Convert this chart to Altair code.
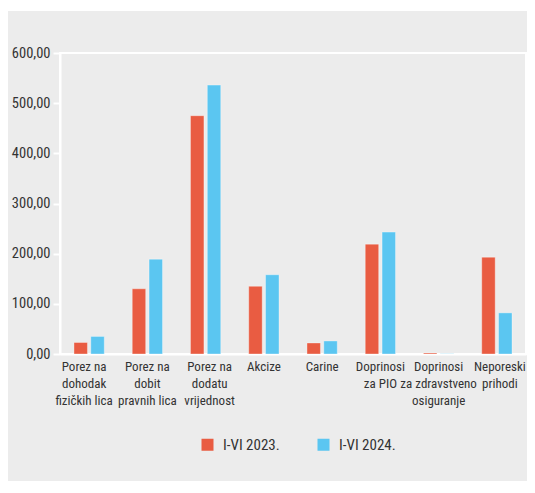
import altair as alt
import pandas as pd

categories = ["Porez na|dohodak|fizičkih lica", "Porez na|dobit|pravnih lica",
              "Porez na|dodatu|vrijednost", "Akcize", "Carine", "Doprinosi|za PIO",
              "Doprinosi|za zdravstveno|osiguranje", "Neporeski|prihodi"]
series = ["I-VI 2023.", "I-VI 2024."]
v2023 = [23, 130, 475, 135, 22, 219, 2, 193]
v2024 = [35, 189, 536, 158, 26, 243, 0.6, 82]
colors = ["#E95C42", "#5BC6F1"]

rows = []
for c, a, b in zip(categories, v2023, v2024):
    rows.append({"cat": c, "s": series[0], "v": a})
    rows.append({"cat": c, "s": series[1], "v": b})
df = pd.DataFrame(rows)

FONT = "Roboto Condensed, Liberation Sans, sans-serif"
TXT = "#333333"

label_offset = {"condition": [
    {"test": "datum.value == 'Neporeski|prihodi'", "value": 3},
    {"test": "datum.value == 'Porez na|dodatu|vrijednost'", "value": 4},
    {"test": "datum.value == 'Porez na|dohodak|fizičkih lica'", "value": -5}],
    "value": 0}

bars = alt.Chart(df).mark_bar(stroke="white", strokeOpacity=0.35, strokeWidth=1).encode(
    x=alt.X("cat:N", sort=categories, title=None,
            scale=alt.Scale(paddingInner=0.48, paddingOuter=0.24),
            axis=alt.Axis(labelExpr="split(datum.label, '|')", labelAngle=0,
                          labelFont=FONT, labelFontSize=13, labelColor=TXT,
                          labelLineHeight=17, labelPadding=6, ticks=False,
                          labelOffset=label_offset,
                          domainColor="white", domainWidth=2, labelBaseline="top")),
    xOffset=alt.XOffset("s:N", sort=series, scale=alt.Scale(paddingInner=0.2)),
    y=alt.Y("v:Q", title=None, scale=alt.Scale(domain=[0, 600]),
            axis=alt.Axis(values=[0, 100, 200, 300, 400, 500, 600],
                          labelExpr="replace(format(datum.value, '.2f'), '.', ',')",
                          labelFont=FONT, labelFontSize=14.5, labelColor=TXT,
                          tickColor="white", tickSize=7, tickWidth=2, labelPadding=3,
                          domainColor="white", domainWidth=2, grid=False)),
    color=alt.Color("s:N", sort=series, title=None,
                    scale=alt.Scale(domain=series, range=colors),
                    legend=alt.Legend(orient="none", legendX=140, legendY=384,
                                      direction="horizontal", symbolType="square",
                                      symbolSize=144, symbolStrokeWidth=0,
                                      labelFont=FONT, labelFontSize=15, labelColor=TXT,
                                      labelOffset=8, columnPadding=36)),
)

band = alt.Chart(pd.DataFrame({"a": [1]})).mark_rule(color="white", strokeWidth=3).encode(
    x=alt.value(-60), x2=alt.value(480), y=alt.value(-43.5)
)

chart = alt.layer(bars, band).properties(
    width=466, height=301, background="#ececec",
    padding={"left": 52, "top": 45, "right": 1, "bottom": 127},
    autosize=alt.AutoSizeParams(type="none"),
).configure_view(stroke="white", strokeWidth=2)

chart.save("out.html", embed_options={"renderer": "svg", "actions": False})
